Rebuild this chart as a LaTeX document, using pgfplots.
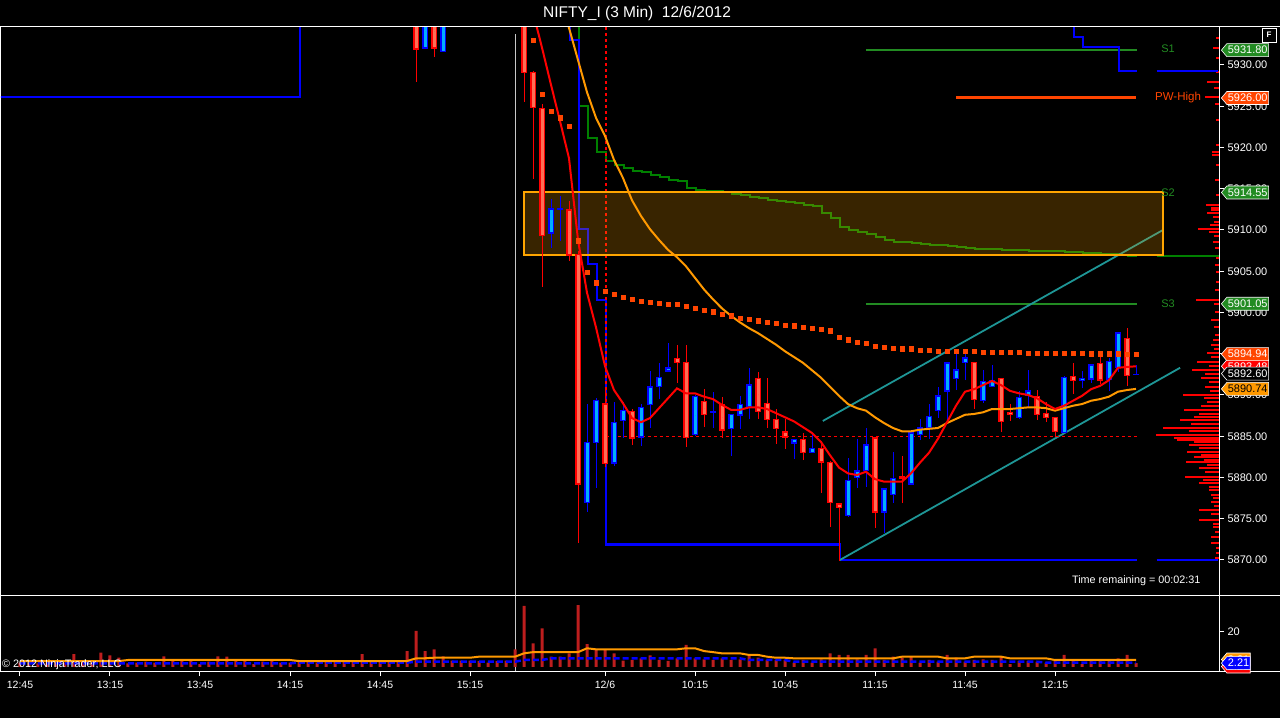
\documentclass[border=0pt]{standalone}
\usepackage{pgfplots}
\pgfplotsset{compat=1.18}
\usepackage{pgfplotstable}
\usepackage{fontspec}
\setmainfont{Liberation Sans}
\usetikzlibrary{shapes.symbols}

\definecolor{upfill}{RGB}{0,175,255}
\definecolor{dnfill}{RGB}{255,110,85}
\definecolor{emared}{RGB}{255,0,0}
\definecolor{emaorange}{RGB}{255,153,0}
\definecolor{vwap}{RGB}{255,69,0}
\definecolor{sgreen}{RGB}{34,139,34}
\definecolor{stepgreen}{RGB}{0,128,0}
\definecolor{chan}{RGB}{30,150,150}
\definecolor{volred}{RGB}{190,30,30}
\definecolor{boxorange}{RGB}{255,165,0}
\definecolor{pwred}{RGB}{255,69,0}

% up candles: index open high low close
\pgfplotstableread{
i o h l c
45 5932.1 5937 5932.0 5936
47 5931.7 5937 5931.6 5936
59 5909.8 5913.9 5907.9 5912.7
60 5912.5 5914.2 5908.7 5912.6
63 5877.0 5889.0 5875.9 5884.3
64 5884.4 5889.7 5878.8 5889.5
66 5881.8 5889.3 5881.5 5886.7
67 5886.85 5889.3 5884.9 5888.1
69 5884.9 5889.0 5883.9 5888.5
70 5888.9 5893.0 5886.1 5891.0
71 5891.1 5893.9 5889.6 5892.2
72 5893.0 5896.4 5893.0 5893.4
75 5885.15 5889.9 5885.0 5889.75
77 5888.0 5890.4 5886.1 5888.1
79 5886.0 5887.8 5882.7 5887.7
80 5887.7 5890.0 5886.0 5889.0
81 5888.7 5893.3 5887.1 5891.3
86 5884.3 5884.8 5882.4 5884.7
88 5883.1 5885.3 5883.0 5883.6
92 5875.45 5882.4 5875.3 5879.7
93 5880.1 5884.8 5878.8 5880.9
94 5881.0 5886.0 5878.85 5884.1
96 5875.9 5878.8 5873.3 5878.7
97 5878.0 5883.2 5876.9 5879.9
99 5879.3 5885.6 5879.2 5885.5
100 5885.3 5887.1 5884.5 5886.1
101 5886.1 5889.0 5884.8 5887.45
102 5888.1 5891.0 5887.3 5889.9
103 5890.6 5894.1 5887.0 5894.0
104 5892.1 5895.3 5890.6 5893.15
105 5894.0 5895.1 5891.9 5894.6
107 5889.5 5893.0 5889.0 5891.8
108 5891.1 5893.75 5891.0 5891.8
111 5887.3 5890.6 5887.2 5889.75
112 5890.0 5893.0 5888.4 5890.6
116 5885.6 5892.4 5885.5 5892.3
118 5891.8 5893.0 5891.0 5892.05
119 5892.05 5893.8 5891.5 5893.75
121 5891.9 5894.6 5890.6 5894.0
122 5893.4 5897.7 5892.8 5897.6
124 5892.6 5893.6 5892.6 5892.6
}\upc

% down candles
\pgfplotstableread{
i o h l c
44 5937 5938 5928.1 5932.1
46 5936 5937 5931.0 5932.1
56 5937 5938 5925.6 5929.15
57 5929.15 5929.3 5916.2 5924.9
58 5924.9 5925.3 5903.1 5909.5
61 5912.5 5913.6 5906.4 5907.0
62 5907.0 5907.5 5872.1 5879.2
65 5889.0 5890.7 5881.3 5881.8
68 5888.1 5888.3 5883.9 5884.9
73 5894.5 5896.1 5891.5 5894.0
74 5894.0 5896.1 5883.7 5884.9
76 5889.3 5890.7 5886.1 5887.7
78 5888.9 5889.9 5884.9 5885.8
82 5892.1 5892.8 5887.1 5888.1
83 5889.15 5892.1 5886.1 5887.2
84 5887.1 5888.5 5884.2 5886.0
85 5885.5 5887.2 5883.6 5884.9
87 5884.7 5885.5 5882.2 5883.1
89 5883.7 5884.5 5878.2 5882.0
90 5881.9 5882.0 5874.0 5877.0
91 5876.9 5877.0 5870.0 5876.5
95 5884.9 5885.0 5874.0 5875.9
98 5880.1 5882.6 5876.9 5880.0
106 5894.0 5894.1 5888.4 5889.5
109 5892.1 5892.2 5885.6 5886.85
110 5888.0 5889.0 5887.0 5887.8
113 5889.9 5890.7 5887.0 5887.7
114 5887.8 5889.15 5886.7 5887.3
115 5887.3 5887.4 5884.9 5885.6
117 5892.3 5894.0 5890.2 5891.8
120 5893.9 5894.6 5891.3 5891.9
123 5897.0 5898.2 5891.2 5892.5
}\dnc

% volume profile: price, bar length (in bar units)
\pgfplotstableread{
p w
5933.27 0.33
5932.06 0.67
5930.85 0.33
5929.15 0.33
5927.94 1.33
5927.21 0.56
5926.12 1.56
5925.27 0.44
5923.33 0.33
5920.30 0.33
5919.45 0.78
5919.09 0.78
5917.88 0.33
5916.06 0.44
5914.24 0.33
5913.03 1.44
5912.67 0.89
5912.42 0.89
5912.06 1.33
5911.58 0.67
5910.97 0.56
5910.61 1.0
5910.12 2.33
5909.76 1.11
5909.27 0.56
5908.55 0.67
5907.82 0.44
5906.61 0.33
5905.76 0.44
5904.91 0.33
5903.70 0.33
5902.73 0.44
5901.52 2.56
5901.03 0.56
5900.06 0.44
5899.09 0.89
5898.24 0.56
5897.27 0.44
5896.67 0.67
5896.06 0.89
5895.58 0.56
5895.09 1.33
5894.61 0.89
5894.00 2.44
5893.52 1.11
5893.03 3.0
5892.55 1.56
5892.06 2.0
5891.58 1.11
5890.97 1.56
5890.48 1.0
5890.00 4.0
5889.64 1.67
5889.15 1.33
5888.67 2.0
5888.18 3.89
5887.70 2.22
5887.33 2.78
5886.97 4.33
5886.48 3.11
5886.00 6.2
5885.64 3.33
5885.15 7.0
5884.79 5.0
5884.55 4.67
5884.30 2.78
5883.94 3.33
5883.58 2.22
5883.09 3.56
5882.73 2.0
5882.48 2.78
5882.12 1.67
5881.88 3.67
5881.52 1.33
5881.15 2.22
5880.67 1.56
5880.06 3.78
5879.70 1.78
5879.33 2.22
5878.85 1.11
5878.48 1.11
5877.88 0.89
5877.52 0.67
5877.03 0.89
5876.55 0.56
5876.06 2.22
5875.58 0.89
5874.85 2.22
5874.36 0.67
5874.00 0.67
5873.39 0.44
5872.79 0.89
5872.06 0.89
5871.45 0.33
5870.85 0.33
5870.24 0.44
}\prof

% volume
\pgfplotstableread{
i v
0 2.5
1 2.5
2 2.0
3 2.5
4 3.0
5 2.5
6 7.4
7 3.0
8 2.5
9 8.2
10 6.7
11 5.3
12 2.0
13 2.5
14 3.0
15 2.5
16 6.1
17 3.6
18 3.4
19 3.4
20 1.7
21 3.0
22 6.1
23 5.9
24 3.6
25 3.6
26 1.7
27 3.0
28 3.4
29 2.5
30 2.5
31 3.0
32 3.0
33 2.5
34 3.0
35 3.6
36 3.0
37 3.6
38 7.4
39 3.6
40 3.0
41 3.6
42 3.4
43 9.1
44 20.6
45 9.1
46 10.1
47 6.1
48 3.6
49 3.6
50 3.6
51 3.4
52 2.5
53 3.4
54 3.6
55 10.1
56 34.9
57 13.5
58 22.1
59 5.9
60 5.9
61 7.8
62 35.4
63 13.1
64 10.1
65 10.1
66 7.8
67 3.6
68 4.0
69 4.95
70 6.67
71 4.0
72 3.43
73 4.95
74 12.6
75 4.95
76 4.38
77 4.0
78 4.95
79 4.0
80 4.38
81 7.0
82 5.33
83 4.0
84 4.0
85 4.0
86 2.48
87 4.0
88 2.48
89 4.38
90 7.8
91 6.86
92 6.86
93 4.38
94 6.86
95 10.67
96 4.0
97 5.9
98 5.33
99 5.9
100 2.48
101 4.0
102 3.05
103 6.86
104 5.33
105 3.05
106 4.0
107 4.38
108 4.0
109 5.9
110 1.7
111 3.43
112 3.43
113 3.05
114 2.48
115 3.43
116 6.86
117 4.0
118 1.7
119 3.43
120 3.43
121 4.0
122 4.95
123 6.86
124 2.21
}\vol

\newcommand{\flag}[5]{%
  \node[signal, signal to=west, signal pointer angle=100, fill=#2, draw=white,
        line width=0.6pt, text=#3, font=\fontsize{11}{12}\selectfont,
        inner xsep=1pt, inner ysep=1.2pt, minimum height=13pt, anchor=west]
        at (#5pt,#1pt) {#4};}

\pgfplotsset{
  errbar/.style n args={3}{forget plot, only marks, mark=*, mark size=0pt,
    mark options={draw=none, fill=none},
    error bars/.cd, #1, error mark=none,
    error bar style={draw=#2, line width=#3}},
}

\begin{document}
\begin{tikzpicture}
\fill[black] (0pt,0pt) rectangle (1280pt,718pt);

%================ MAIN PRICE PANEL =================
\begin{axis}[
  at={(1pt,122pt)}, anchor=south west, scale only axis,
  width=1218pt, height=569pt,
  xmin=-2.111, xmax=133.222, ymin=5865.636, ymax=5934.606,
  axis line style={draw=white, line width=1pt},
  xtick=\empty,
  ytick={5870,5875,...,5930},
  ytick pos=right, yticklabel pos=right,
  tick align=outside, major tick length=5pt,
  tick style={white, line width=1pt},
  scaled y ticks=false,
  yticklabel style={font=\fontsize{11}{12}\selectfont, text=white},
  /pgf/number format/fixed, /pgf/number format/fixed zerofill,
  /pgf/number format/precision=2, /pgf/number format/1000 sep={},
  /pgf/number format/assume math mode=true,
]
% session break
\addplot[color={rgb,255:red,200;green,200;blue,200}, line width=1pt] coordinates {(55.11,5865.6) (55.11,5933.8)};

% volume profile
\addplot[errbar={x dir=minus, x explicit}{red}{1.3pt}]
  table[x expr=133.2, y=p, x error=w] \prof;

% green developing step line
\addplot[const plot, stepgreen, line width=2pt] coordinates {
(61.1,5940) (62.1,5925.0) (63.1,5921.15) (64.1,5919.45) (65.1,5918.4) (66.1,5917.9)
(67.1,5917.5) (68.1,5917.15) (69.1,5917.0) (70.1,5916.7) (71.1,5916.4) (72.1,5916.1)
(73.1,5915.9) (74.1,5915.1) (75.1,5914.8) (76.1,5914.7) (78.1,5914.6) (79.1,5914.4)
(80.1,5914.2) (81.1,5914.0) (82.1,5913.9) (83.1,5913.6) (84.1,5913.5) (85.1,5913.4)
(86.1,5913.3) (87.1,5913.0) (88.1,5912.9) (89.1,5912.06) (90.1,5911.45) (91.1,5910.36)
(92.1,5910.0) (93.1,5909.75) (94.1,5909.5) (95.1,5909.15) (96.1,5908.8) (97.1,5908.55)
(99.1,5908.4) (100.1,5908.3) (101.1,5908.2) (103.1,5908.06) (104.1,5907.94) (105.1,5907.8)
(106.1,5907.7) (109.1,5907.6) (112.1,5907.45) (116.1,5907.3) (118.1,5907.2) (120.1,5907.1)
(122.1,5906.97) (123.1,5906.85) (124.1,5906.85)};

% pivot lines
\addplot[sgreen, line width=1.5pt] coordinates {(94,5931.8) (124.1,5931.8)};
\addplot[sgreen, line width=1.5pt] coordinates {(94,5914.55) (124.1,5914.55)};
\addplot[sgreen, line width=1.5pt] coordinates {(94,5901.05) (124.1,5901.05)};
\addplot[pwred, line width=3pt] coordinates {(104,5926.0) (124,5926.0)};

% blue channel steps
\addplot[const plot, blue, line width=2.5pt] coordinates {(-3,5926.1) (31.1,5940) (31.2,5940)};
\addplot[const plot, blue, line width=2.5pt] coordinates {
(61.0,5940) (61.1,5933.0) (62.1,5910.1) (63.1,5905.9) (64.1,5901.5) (65.1,5871.9) (91.1,5870.0) (124.1,5870.0)};
\addplot[const plot, blue, line width=2.5pt] coordinates {
(117.0,5940) (117.1,5933.4) (118.1,5932.2) (122.1,5929.3) (124.1,5929.3)};
\addplot[blue, line width=2.5pt] coordinates {(126.3,5929.3) (133.1,5929.3)};
\addplot[blue, line width=2.5pt] coordinates {(126.3,5870.0) (133.1,5870.0)};
\addplot[stepgreen, line width=2.5pt] coordinates {(126.3,5906.85) (133.2,5906.85)};

% channel lines
\addplot[chan, line width=1.8pt] coordinates {(89.2,5886.85) (127.0,5910.0)};
\addplot[chan, line width=1.8pt] coordinates {(91.1,5870.0) (128.9,5893.3)};

% red dashed lines
\addplot[red, line width=1.3pt, dash pattern=on 3pt off 3pt] coordinates {(65.1,5885.0) (124.1,5885.0)};
\addplot[red, line width=1.3pt, dash pattern=on 3pt off 3pt] coordinates {(65.1,5934.6) (65.1,5885.0)};

% zone box
\addplot[fill=boxorange, fill opacity=0.22, draw=boxorange, line width=2pt]
  coordinates {(56,5907.0) (127,5907.0) (127,5914.55) (56,5914.55)} -- cycle;

% candles: wicks
\addplot[errbar={y dir=both, y explicit}{blue}{1pt}]
  table[x=i, y expr={(\thisrow{h}+\thisrow{l})/2}, y error expr={(\thisrow{h}-\thisrow{l})/2}] \upc;
\addplot[errbar={y dir=both, y explicit}{red}{1pt}]
  table[x=i, y expr={(\thisrow{h}+\thisrow{l})/2}, y error expr={(\thisrow{h}-\thisrow{l})/2}] \dnc;
% bodies: outline
\addplot[errbar={y dir=both, y explicit}{blue}{5.5pt}]
  table[x=i, y expr={(\thisrow{o}+\thisrow{c})/2}, y error expr={abs(\thisrow{o}-\thisrow{c})/2+0.08}] \upc;
\addplot[errbar={y dir=both, y explicit}{red}{5.5pt}]
  table[x=i, y expr={(\thisrow{o}+\thisrow{c})/2}, y error expr={abs(\thisrow{o}-\thisrow{c})/2+0.08}] \dnc;
% bodies: fill
\addplot[errbar={y dir=both, y explicit}{upfill}{3pt}]
  table[x=i, y expr={(\thisrow{o}+\thisrow{c})/2}, y error expr={max(abs(\thisrow{o}-\thisrow{c})/2-0.09,0)}] \upc;
\addplot[errbar={y dir=both, y explicit}{dnfill}{3pt}]
  table[x=i, y expr={(\thisrow{o}+\thisrow{c})/2}, y error expr={max(abs(\thisrow{o}-\thisrow{c})/2-0.09,0)}] \dnc;

% slow EMA
\addplot[emaorange, line width=2pt] coordinates {
(60,5937.9) (61,5934.5) (62,5930.6) (63,5926.7) (64,5923.6) (65,5921.4) (66,5918.5) (67,5916.3)
(68,5913.6) (69,5911.7) (70,5910.1) (71,5908.8) (72,5907.6) (73,5906.7) (74,5905.6) (75,5904.2)
(76,5902.8) (77,5901.6) (78,5900.5) (79,5899.6) (80,5898.8) (81,5898.1) (82,5897.5) (83,5896.8)
(84,5896.1) (85,5895.3) (86,5894.6) (87,5893.9) (88,5893.0) (89,5892.1) (90,5891.0) (91,5889.9)
(92,5888.9) (93,5888.4) (94,5888.1) (95,5887.3) (96,5886.6) (97,5886.0) (98,5885.6) (99,5885.6)
(100,5885.8) (101,5885.9) (102,5886.0) (103,5886.6) (104,5887.1) (105,5887.6) (106,5887.7)
(107,5887.9) (108,5888.3) (109,5888.3) (110,5888.3) (111,5888.4) (112,5888.5) (113,5888.5)
(114,5888.4) (115,5888.1) (116,5888.4) (117,5888.7) (118,5888.9) (119,5889.3) (120,5889.5)
(121,5889.8) (122,5890.4) (123,5890.6) (124,5890.74)};

% fast EMA
\addplot[emared, line width=2pt] coordinates {
(56,5937.0) (57,5936.4) (58,5932.1) (59,5927.6) (60,5923.2) (61,5918.7) (62,5908.8) (63,5902.4)
(64,5898.2) (65,5893.5) (66,5890.6) (67,5889.0) (68,5887.2) (69,5886.7) (70,5887.2) (71,5888.4)
(72,5889.6) (73,5890.8) (74,5890.2) (75,5890.2) (76,5889.8) (77,5889.5) (78,5888.8) (79,5888.2)
(80,5888.2) (81,5888.5) (82,5888.5) (83,5888.3) (84,5887.8) (85,5887.3) (86,5886.8) (87,5886.1)
(88,5885.4) (89,5884.3) (90,5882.7) (91,5881.2) (92,5880.5) (93,5880.3) (94,5880.7) (95,5879.8)
(96,5879.5) (97,5879.5) (98,5879.5) (99,5880.5) (100,5881.8) (101,5883.0) (102,5884.7)
(103,5886.7) (104,5888.7) (105,5890.4) (106,5890.7) (107,5891.2) (108,5891.7) (109,5891.2)
(110,5890.5) (111,5890.2) (112,5890.0) (113,5889.6) (114,5888.9) (115,5888.3) (116,5888.7)
(117,5889.3) (118,5889.9) (119,5890.7) (120,5891.1) (121,5891.8) (122,5893.3) (123,5893.4)
(124,5893.48)};

% VWAP squares
\addplot[only marks, mark=square*, mark size=2.1pt, color=vwap] coordinates {
(57,5933.0) (58,5926.5) (59,5924.4) (60,5923.6) (61,5922.6) (62,5908.7) (63,5904.9) (64,5903.6)
(65,5902.6) (66,5902.2) (67,5901.9) (68,5901.6) (69,5901.4) (70,5901.2) (71,5901.15) (72,5901.0)
(73,5901.0) (74,5900.8) (75,5900.5) (76,5900.3) (77,5900.1) (78,5899.8) (79,5899.6) (80,5899.3)
(81,5899.2) (82,5899.0) (83,5898.8) (84,5898.7) (85,5898.5) (86,5898.4) (87,5898.2) (88,5898.1)
(89,5898.0) (90,5897.8) (91,5897.0) (92,5896.7) (93,5896.4) (94,5896.3) (95,5895.9) (96,5895.8)
(97,5895.7) (98,5895.6) (99,5895.6) (100,5895.45) (101,5895.45) (102,5895.3) (103,5895.3)
(104,5895.3) (105,5895.3) (106,5895.3) (107,5895.2) (108,5895.2) (109,5895.2) (110,5895.2)
(111,5895.2) (112,5895.1) (113,5895.1) (114,5895.1) (115,5895.1) (116,5895.1) (117,5895.1)
(118,5895.1) (119,5895.0) (120,5895.0) (121,5895.0) (122,5895.0) (123,5894.95) (124,5894.94)};
\end{axis}

%================ VOLUME PANEL =================
\begin{axis}[
  at={(1pt,47pt)}, anchor=south west, scale only axis,
  width=1218pt, height=75pt,
  xmin=-2.111, xmax=133.222, ymin=-2.286, ymax=40.571,
  axis line style={draw=white, line width=1pt},
  xtick={0,10,20,30,40,50,65,75,85,95,105,115},
  xticklabels={12:45,13:15,13:45,14:15,14:45,15:15,12/6,10:15,10:45,11:15,11:45,12:15},
  xtick pos=left,
  ytick={20}, ytick pos=right, yticklabel pos=right,
  tick align=outside, major tick length=5pt,
  tick style={white, line width=1pt},
  ticklabel style={font=\fontsize{10.5}{12}\selectfont, text=white},
  xticklabel style={yshift=-1pt, text height=8pt, text depth=2pt},
  yticklabel style={font=\fontsize{11}{12}\selectfont},
  /pgf/number format/assume math mode=true,
]
\addplot[color={rgb,255:red,200;green,200;blue,200}, line width=1pt] coordinates {(55.11,-2.3) (55.11,40.6)};
\addplot[ybar, bar width=3pt, fill=volred, draw=none] table[x=i, y=v] \vol;
\addplot[blue, line width=2.5pt, dash pattern=on 6pt off 3pt] coordinates {
(0,2.1) (30,2.1) (31,2.5) (43,2.5) (44,3.0) (55,3.0) (56,4.0) (58,4.0) (59,4.95) (80,4.95)
(81,4.0) (85,4.0) (86,3.0) (113,3.0) (114,2.5) (124,2.5)};
\addplot[emaorange, line width=2pt] coordinates {
(0,3.4) (11,3.4) (12,4.0) (30,4.0) (31,3.4) (43,3.4) (44,4.95) (45,5.0) (46,5.3) (50,5.3)
(51,5.9) (55,5.9) (56,7.8) (57,8.5) (62,8.5) (63,10.7) (64,10.1) (73,10.1) (74,10.7) (75,10.7)
(76,9.1) (77,8.5) (78,7.8) (80,7.8) (81,6.9) (82,6.9) (83,5.9) (84,5.3) (85,5.3) (86,4.95)
(97,4.95) (98,5.9) (102,5.9) (103,4.95) (105,4.95) (106,5.9) (109,5.9) (110,4.95) (114,4.95)
(115,4.0) (124,4.0)};
\end{axis}

% full-width frame lines
\draw[white, line width=1pt] (0pt,691pt) -- (1280pt,691pt);
\draw[white, line width=1pt] (0pt,122pt) -- (1280pt,122pt);
\draw[white, line width=1pt] (0pt,47pt) -- (1280pt,47pt);

% title
\node[text=white, font=\fontsize{15.5}{18}\selectfont] at (637pt,705pt) {NIFTY\_I (3 Min)\ \ 12/6/2012};
% F box
\draw[white, line width=0.8pt, fill=black] (1262pt,676pt) rectangle (1276pt,690pt);
\node[text=white, font=\fontsize{8}{9}\selectfont\bfseries] at (1269pt,683pt) {F};

% labels
\node[text=sgreen, font=\fontsize{11}{12}\selectfont] at (1168pt,669pt) {S1};
\node[text=sgreen, font=\fontsize{11}{12}\selectfont] at (1168pt,525pt) {S2};
\node[text=sgreen, font=\fontsize{11}{12}\selectfont] at (1168pt,414pt) {S3};
\node[text=pwred, font=\fontsize{11.5}{12}\selectfont] at (1178pt,620pt) {PW-High};
\node[text=white, font=\fontsize{10.8}{12}\selectfont, anchor=east] at (1204pt,137pt) {Time remaining = 00:02:31};
\node[text=white, font=\fontsize{10.8}{12}\selectfont, anchor=west, inner sep=0pt] at (2pt,53pt) {\textcopyright\ 2012 NinjaTrader, LLC};

% price flags
\flag{667.85}{sgreen}{white}{5931.80}{1221}
\flag{620.0}{pwred}{white}{5926.00}{1221}
\flag{525.5}{sgreen}{white}{5914.55}{1221}
\flag{414.2}{sgreen}{white}{5901.05}{1221}
\flag{351.7}{red}{white}{5893.48}{1221}
\flag{363.8}{pwred}{white}{5894.94}{1221}
\flag{344.4}{black}{white}{5892.60}{1221}
\flag{329.1}{emaorange}{black}{5890.74}{1221}
% volume flags
\flag{58.5}{emaorange}{white}{2.21}{1221}
\flag{51.5}{red}{white}{2.21}{1221}
\flag{54.9}{blue}{white}{2.21}{1221}

\pgfresetboundingbox
\path[use as bounding box] (0pt,0pt) rectangle (1280pt,718pt);
\end{tikzpicture}
\end{document}
